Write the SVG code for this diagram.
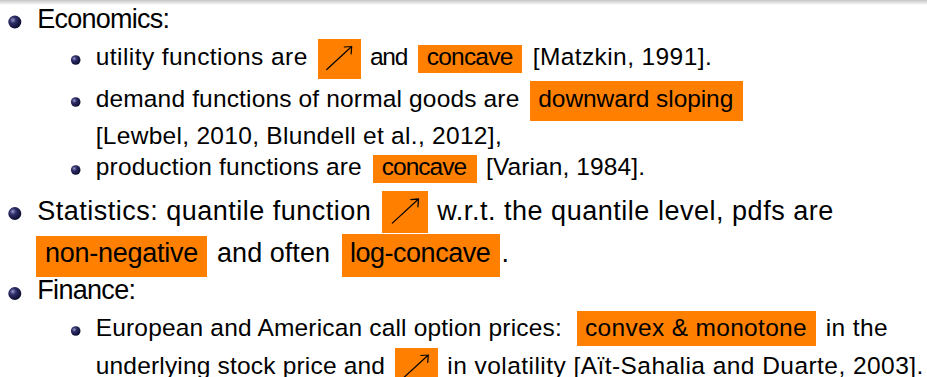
<svg xmlns="http://www.w3.org/2000/svg" width="927" height="377" viewBox="0 0 927 377">
<defs>
<style>
text{font-family:"Liberation Sans",Arial,sans-serif;fill:#000}
.m{font-size:27px}
.s{font-size:24.5px}
.hl{fill:#ff8000}
.arr{fill:none;stroke:#000;stroke-width:1.2;stroke-linecap:round}
</style>
<linearGradient id="topbar" x1="0" y1="0" x2="0" y2="1">
<stop offset="0" stop-color="#c4c4c4"/>
<stop offset="1" stop-color="#ffffff"/>
</linearGradient>
<radialGradient id="ball" cx="0.35" cy="0.35" r="0.7">
<stop offset="0" stop-color="#9a9ac8"/>
<stop offset="0.35" stop-color="#2e2e6a"/>
<stop offset="1" stop-color="#0a0a2a"/>
</radialGradient>
<path id="ne" class="arr" d="M0,23 L25,0 M25,0 L17.6,0.5 M25,0 L24.4,7.4"/>
</defs>
<rect x="0" y="0" width="927" height="5" fill="url(#topbar)"/>

<g id="economics">
<circle cx="14.8" cy="22" r="6.5" fill="url(#ball)"/>
<text class="m" x="37.3" y="27.5" textLength="132.7" lengthAdjust="spacing">Economics:</text>
</g>

<g id="utility">
<circle cx="75.7" cy="60" r="4.8" fill="url(#ball)"/>
<text class="s" x="95.7" y="65" textLength="211.6" lengthAdjust="spacing">utility functions are</text>
<rect class="hl" x="318" y="39" width="43" height="40"/>
<use href="#ne" x="326.7" y="46.5"/>
<text class="s" x="370" y="65" textLength="38.3" lengthAdjust="spacing">and</text>
<rect class="hl" x="418" y="45" width="104" height="28"/>
<text class="s" x="426.7" y="65" textLength="86.6" lengthAdjust="spacing">concave</text>
<text class="s" x="532.7" y="65" textLength="179" lengthAdjust="spacing">[Matzkin, 1991].</text>
</g>

<g id="demand">
<circle cx="75.7" cy="102" r="4.8" fill="url(#ball)"/>
<text class="s" x="95.7" y="107" textLength="423.6" lengthAdjust="spacing">demand functions of normal goods are</text>
<rect class="hl" x="530" y="81" width="213" height="40"/>
<text class="s" x="538.3" y="107" textLength="195" lengthAdjust="spacing">downward sloping</text>
<text class="s" x="95.7" y="144" textLength="406" lengthAdjust="spacing">[Lewbel, 2010, Blundell et al., 2012],</text>
</g>

<g id="production">
<circle cx="75.7" cy="170" r="4.8" fill="url(#ball)"/>
<text class="s" x="95.7" y="175" textLength="266" lengthAdjust="spacing">production functions are</text>
<rect class="hl" x="373" y="155" width="104" height="28"/>
<text class="s" x="381.7" y="175" textLength="85.5" lengthAdjust="spacing">concave</text>
<text class="s" x="486" y="175" textLength="159" lengthAdjust="spacing">[Varian, 1984].</text>
</g>

<g id="statistics">
<circle cx="14.8" cy="213.5" r="6.5" fill="url(#ball)"/>
<text class="m" x="37.3" y="219.5" textLength="333.4" lengthAdjust="spacing">Statistics: quantile function</text>
<rect class="hl" x="382" y="191" width="46" height="42"/>
<use href="#ne" transform="translate(392.3,199) scale(1.05)"/>
<text class="m" x="437.3" y="219.5" textLength="396" lengthAdjust="spacing">w.r.t. the quantile level, pdfs are</text>
<rect class="hl" x="36" y="236" width="171" height="41"/>
<text class="m" x="45" y="262" textLength="153.3" lengthAdjust="spacing">non-negative</text>
<text class="m" x="217" y="262" textLength="113" lengthAdjust="spacing">and often</text>
<rect class="hl" x="342" y="234" width="158" height="43"/>
<text class="m" x="350" y="262" textLength="140.7" lengthAdjust="spacing">log-concave</text>
<text class="m" x="501.5" y="262">.</text>
</g>

<g id="finance">
<circle cx="14.8" cy="293.5" r="6.5" fill="url(#ball)"/>
<text class="m" x="37.3" y="299" textLength="98.7" lengthAdjust="spacing">Finance:</text>
</g>

<g id="options">
<circle cx="75.7" cy="331" r="4.8" fill="url(#ball)"/>
<text class="s" x="95.7" y="336" textLength="466" lengthAdjust="spacing">European and American call option prices:</text>
<rect class="hl" x="577" y="311" width="239" height="35"/>
<text class="s" x="585" y="336" textLength="221.7" lengthAdjust="spacing">convex &amp; monotone</text>
<text class="s" x="825.7" y="336" textLength="62" lengthAdjust="spacing">in the</text>
<text class="s" x="95.7" y="373.5" textLength="289.3" lengthAdjust="spacing">underlying stock price and</text>
<rect class="hl" x="395" y="348" width="43" height="40"/>
<use href="#ne" x="403.3" y="355"/>
<text class="s" x="447.3" y="373.5" textLength="476" lengthAdjust="spacing">in volatility [Aït-Sahalia and Duarte, 2003].</text>
</g>
</svg>
